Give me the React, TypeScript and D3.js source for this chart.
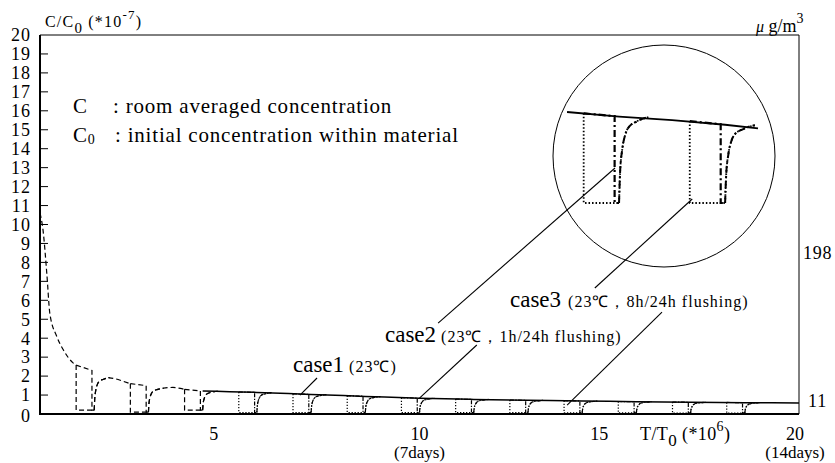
import React from 'react';
import * as d3 from 'd3';

const DAY = 20 / 14; // one day in T/T0 (*10^6) units

const yTicks = d3.range(0, 21);
const xTicks = [5, 10, 15, 20];
const xNotes = ['', '(7days)', '', '(14days)'];

// initial decay before the first flushing (T/T0, C/C0)
const decayT = [0, 0.08, 0.18, 0.26, 0.44, 0.61, 0.87, 0.952];
const decayV = [10.6, 9.7, 7.4, 5.3, 4.1, 3.4, 2.7, 2.58];

// recovered arcs between the early flushings
const arc1T = [1.8, 2.0, 2.2, 2.381];
const arc1V = [1.92, 1.85, 1.72, 1.6];
const arc2T = [3.23, 3.5, 3.7, 3.81];
const arc2V = [1.36, 1.4, 1.35, 1.3];

// case1, no flushing (day number, C/C0)
const case1Day = [3, 3.5, 4, 5, 6, 7, 8, 9, 10, 11, 12, 13, 14];
const case1V = [1.22, 1.18, 1.14, 1.03, 0.93, 0.83, 0.77, 0.72, 0.69, 0.65, 0.62, 0.6, 0.58];

// flushing ends at each day; case3 starts 8h before, case2 1h before
const flushDays = [1, 2, 3, 4, 5, 6, 7, 8, 9, 10, 11, 12, 13];
const top3 = [2.58, 1.6, 1.3, 1.16, 1.06, 0.96, 0.86, 0.79, 0.74, 0.7, 0.66, 0.63, 0.61];
const top2 = [2.3, 1.5, 1.22, 1.14, 1.04, 0.94, 0.84, 0.77, 0.72, 0.69, 0.65, 0.62, 0.6];
const floorV = [0.2, 0.1, 0.2, 0.08, 0.08, 0.08, 0.08, 0.07, 0.07, 0.06, 0.06, 0.05, 0.05];
const recoverV = [1.92, 1.36, 1.2, 1.13, 1.02, 0.92, 0.83, 0.77, 0.72, 0.68, 0.65, 0.62, 0.6];

// recovery after flushing (days after end, fraction regained)
const recDt = [0, 0.01, 0.03, 0.06, 0.09, 0.17, 0.28];
const recFrac = [0, 0.36, 0.62, 0.8, 0.88, 0.95, 1];

// magnified view in the circle (day, relative level)
const insetLineT = [0.51, 1.0, 1.5, 2.0, 2.31];
const insetLineV = [1.0, 0.95, 0.91, 0.86, 0.82];
const insetDays = [1, 2];
const insetTop3 = [0.985, 0.9];
const insetTop2 = [0.955, 0.865];
const insetRecover = [0.945, 0.855];

const SERIF = '"Liberation Serif", "Times New Roman", serif';

type P = [number, number];

const x = d3.scaleLinear().domain([0, 20]).range([40, 799]);
const y = d3.scaleLinear().domain([0, 20]).range([414, 35]);
const ix = d3.scaleLinear().domain([0.5, 2.31]).range([566, 758]);
const iy = d3.scaleLinear().domain([0, 1]).range([203, 112]);

function dips(day: number, unit: number, t3: number, t2: number, fl: number, rec: number) {
  const e = day * unit;
  const s3 = e - unit / 3;
  const s2 = e - unit / 24;
  const case3: P[] = [[s3, t3], [s3, fl], [e, fl]];
  const case2: P[] = [[s3, t3], [s2, t2], [s2, fl], [e, fl]];
  const recovery: P[] = recDt.map((dt, i) => [e + dt * unit, fl + (rec - fl) * recFrac[i]]);
  return { case3, case2, recovery };
}

const App = () => {
  const lin = (sx: any, sy: any) => d3.line<P>().x(d => sx(d[0])).y(d => sy(d[1]));
  const smooth = (sx: any, sy: any) => d3.line<P>().x(d => sx(d[0])).y(d => sy(d[1])).curve(d3.curveMonotoneX);
  const mainLin = lin(x, y);
  const mainSmooth = smooth(x, y);
  const inLin = lin(ix, iy);
  const inSmooth = smooth(ix, iy);

  const decay: P[] = decayT.map((t, i) => [t, decayV[i]]);
  const arc1: P[] = arc1T.map((t, i) => [t, arc1V[i]]);
  const arc2: P[] = arc2T.map((t, i) => [t, arc2V[i]]);
  const case1: P[] = case1Day.map((d, i) => [d * DAY, case1V[i]]);
  const insetLine: P[] = insetLineT.map((t, i) => [t, insetLineV[i]]);

  const leaders: { a: P; b: P }[] = [
    { a: [7.3, 1.9], b: [6.85, 1.0] },
    { a: [11.51, 3.64], b: [10.0, 0.84] },
    { a: [16.39, 5.38], b: [13.89, 0.47] },
  ];

  return (
    <svg width={835} height={463} style={{ position: 'absolute', left: 0, top: 0, background: '#fff' }}
      fontFamily={SERIF}>
      {/* frame */}
      <line x1={x(0)} x2={x(20)} y1={y(20)} y2={y(20)} stroke="#000" strokeWidth={1} />
      <line x1={x(20)} x2={x(20)} y1={y(20)} y2={y(0)} stroke="#000" strokeWidth={1} />
      <line x1={x(0)} x2={x(0)} y1={y(20)} y2={y(0)} stroke="#000" strokeWidth={2} />
      <line x1={x(0) - 1} x2={x(20)} y1={y(0)} y2={y(0)} stroke="#000" strokeWidth={2} />

      {/* y ticks */}
      {yTicks.map(v => (
        <g key={v}>
          {v > 0 && v < 20 && <line x1={x(0)} x2={x(0) + 8} y1={y(v)} y2={y(v)} stroke="#000" strokeWidth={1} />}
          <text x={31} y={y(v) + (v === 0 ? 2 : 0)} dy="0.35em" textAnchor="end" fontSize={18} letterSpacing={1}>{v}</text>
        </g>
      ))}
      <text x={45} y={27} fontSize={16} letterSpacing={1.2}>
        C/C<tspan dy={6} fontSize={15}>0</tspan><tspan dy={-6}> (*10</tspan><tspan dy={-8} fontSize={13}>-7</tspan><tspan dy={8}>)</tspan>
      </text>

      {/* x ticks */}
      {xTicks.map((v, i) => (
        <g key={v}>
          <text x={x(v) - (v === 20 ? 4 : v === 5 ? 16 : v === 15 ? 10 : 0)} y={440} textAnchor="middle" fontSize={18}>{v}</text>
          {xNotes[i] && <text x={x(v) - (v === 20 ? 4 : 0)} y={458} textAnchor="middle" fontSize={17}>{xNotes[i]}</text>}
        </g>
      ))}
      <text x={640} y={440} fontSize={18} letterSpacing={0.4}>
        T/T<tspan dy={6} fontSize={17}>0</tspan><tspan dy={-6}> (*10</tspan><tspan dy={-9} fontSize={14}>6</tspan><tspan dy={9}>)</tspan>
      </text>

      {/* right labels */}
      <text x={756} y={32} fontSize={18}>
        <tspan fontStyle="italic" fontSize={16}>μ</tspan> g/m<tspan dy={-9} fontSize={14}>3</tspan>
      </text>
      <text x={803} y={253} dy="0.35em" fontSize={18} letterSpacing={0.8}>198</text>
      <text x={808} y={401} dy="0.35em" fontSize={18} letterSpacing={0.8}>11</text>

      {/* legend */}
      <g fontSize={21} letterSpacing={0.8}>
        <text x={73} y={113}>C</text>
        <text x={113} y={113}>: room averaged concentration</text>
        <text x={73} y={142}>C<tspan dy={2} fontSize={14}>0</tspan></text>
        <text x={115} y={142}>: initial concentration within material</text>
      </g>

      {/* early decay, all cases overlapping */}
      {[decay, arc1, arc2].map((pts, i) => (
        <path key={'e' + i} d={mainSmooth(pts) || ''} fill="none" stroke="#000" strokeWidth={1.2} strokeDasharray="5,3" />
      ))}

      {/* case1 */}
      <path d={mainSmooth(case1) || ''} fill="none" stroke="#000" strokeWidth={1.5} />

      {/* flushing dips */}
      {flushDays.map((d, i) => {
        const p = dips(d, DAY, top3[i], top2[i], floorV[i], recoverV[i]);
        const early = i < 3;
        const s3 = early ? '5,3' : '1.3,1.7';
        const s2 = early ? '5,3' : '4,1.5,1.3,1.5';
        return (
          <g key={d} fill="none" stroke="#000" strokeWidth={1.2}>
            <path d={mainLin(p.case3) || ''} strokeDasharray={s3} />
            <path d={mainLin(p.case2) || ''} strokeDasharray={s2} />
            <path d={mainSmooth(p.recovery) || ''} strokeDasharray={s3} />
            <path d={mainSmooth(p.recovery) || ''} strokeDasharray={s2} />
          </g>
        );
      })}

      {/* magnified circle */}
      <circle cx={664} cy={156} r={111} fill="none" stroke="#000" strokeWidth={1} />
      <path d={inLin(insetLine) || ''} fill="none" stroke="#000" strokeWidth={1.8} />
      {insetDays.map((d, i) => {
        const p = dips(d, 1, insetTop3[i], insetTop2[i], 0, insetRecover[i]);
        return (
          <g key={'in' + d} fill="none" stroke="#000">
            <path d={inLin(p.case3) || ''} strokeWidth={1.8} strokeDasharray="1.5,2" />
            <path d={inLin(p.case2) || ''} strokeWidth={2.2} strokeDasharray="7,3,2,3" />
            <path d={inSmooth(p.recovery) || ''} strokeWidth={1.8} strokeDasharray="1.5,2" />
            <path d={inSmooth(p.recovery) || ''} strokeWidth={2} strokeDasharray="7,3,2,3" />
          </g>
        );
      })}

      {/* leaders from circle */}
      <line x1={ix(0.962)} y1={iy(0.385)} x2={x(10.49)} y2={y(4.8)} stroke="#000" strokeWidth={1.1} />
      <line x1={ix(1.69)} y1={iy(0.044)} x2={x(14.62)} y2={y(6.65)} stroke="#000" strokeWidth={1.1} />
      {leaders.map((l, i) => (
        <line key={'l' + i} x1={x(l.a[0])} y1={y(l.a[1])} x2={x(l.b[0])} y2={y(l.b[1])} stroke="#000" strokeWidth={1.1} />
      ))}

      {/* case labels */}
      <text x={293} y={372}>
        <tspan fontSize={23}>case1</tspan><tspan fontSize={16} dx={5} letterSpacing={1}>(23℃)</tspan>
      </text>
      <text x={385} y={342}>
        <tspan fontSize={23}>case2</tspan><tspan fontSize={16} dx={5} letterSpacing={1}>(23℃，1h/24h flushing)</tspan>
      </text>
      <text x={510} y={307}>
        <tspan fontSize={23}>case3</tspan><tspan fontSize={16} dx={7} letterSpacing={1}>(23℃，8h/24h flushing)</tspan>
      </text>
    </svg>
  );
};

export default App;
